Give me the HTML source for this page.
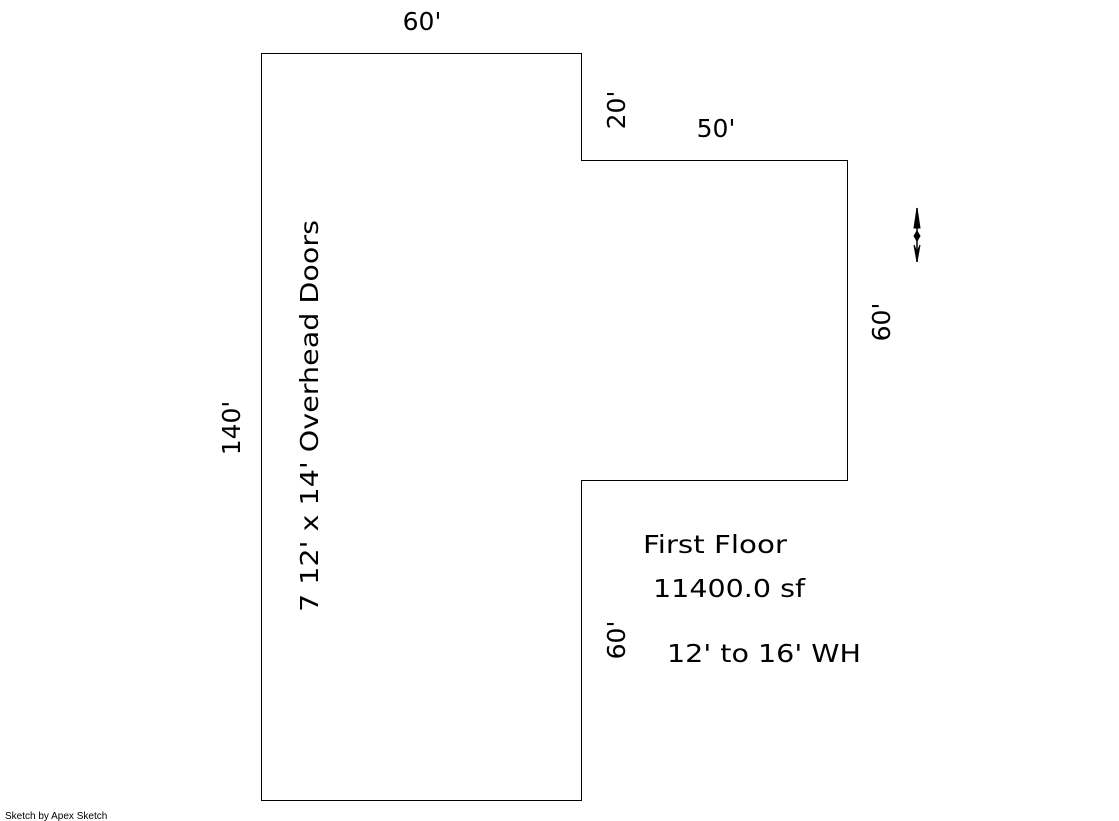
<!DOCTYPE html>
<html><head><style>html,body{margin:0;padding:0;background:#fff;}svg{display:block}</style></head>
<body>
<svg width="1119" height="821" viewBox="0 0 1119 821" xmlns="http://www.w3.org/2000/svg" font-family="DejaVu Sans, Liberation Sans, sans-serif" font-size="25" fill="#000">
<polygon points="261.5,53.5 581.5,53.5 581.5,160.5 847.5,160.5 847.5,480.5 581.5,480.5 581.5,800.5 261.5,800.5" fill="none" stroke="#000" stroke-width="1"/>
<text x="422" y="30" text-anchor="middle">60'</text>
<text x="716" y="137" text-anchor="middle">50'</text>
<text transform="translate(625,110) rotate(-90)" text-anchor="middle">20'</text>
<text transform="translate(240,428) rotate(-90)" text-anchor="middle">140'</text>
<text transform="translate(318,416) rotate(-90)" text-anchor="middle" textLength="392" lengthAdjust="spacingAndGlyphs">7 12' x 14' Overhead Doors</text>
<text transform="translate(890,322) rotate(-90)" text-anchor="middle">60'</text>
<text transform="translate(625,640) rotate(-90)" text-anchor="middle">60'</text>
<text x="715" y="553" text-anchor="middle" textLength="144" lengthAdjust="spacingAndGlyphs">First Floor</text>
<text x="729" y="597" text-anchor="middle" textLength="152" lengthAdjust="spacingAndGlyphs">11400.0 sf</text>
<text x="764" y="662" text-anchor="middle" textLength="194" lengthAdjust="spacingAndGlyphs">12' to 16' WH</text>
<g stroke="#000" fill="#000">
<line x1="917" y1="208" x2="917" y2="262" stroke-width="1.5"/>
<polygon points="917,208 914,228 920,228"/>
<polygon points="917,231 914,236 917,241 920,236"/>
<polygon points="914,245 917,262 920,245 917,252"/>
</g>
<text x="5" y="819" font-size="10" font-family="Liberation Sans, sans-serif">Sketch by Apex Sketch</text>
</svg>
</body></html>
